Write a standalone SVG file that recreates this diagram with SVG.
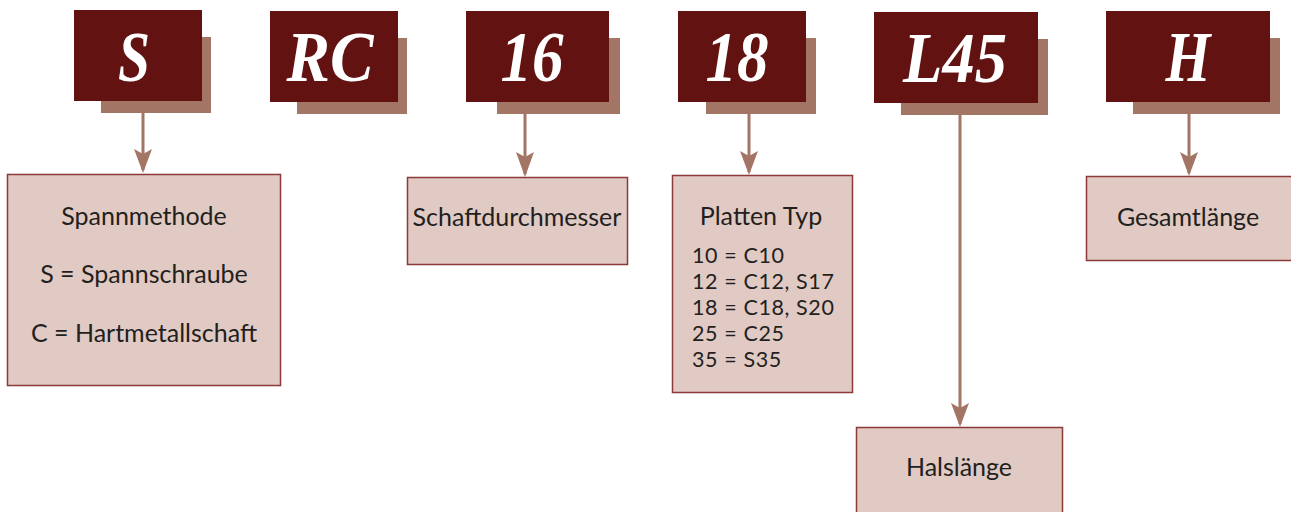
<svg xmlns="http://www.w3.org/2000/svg" width="1291" height="512" viewBox="0 0 1291 512">
<defs>
<style>
.sh{fill:#a37565}
.hd{fill:#621210}
.code{font-family:"Liberation Serif","Times New Roman",serif;font-weight:bold;font-style:italic;font-size:72px;fill:#ffffff;text-anchor:middle}
.box{fill:#e0cac3;stroke:#8b3a3a;stroke-width:1.5}
.t{font-family:Lato,"Open Sans",sans-serif;font-size:25px;fill:#231f20}
.lst{font-size:21.5px;letter-spacing:0.6px}
.c{text-anchor:middle}
.ln{stroke:#a37565;stroke-width:3;fill:none}
.ah{fill:#a37565}
</style>
</defs>
<rect width="1291" height="512" fill="#ffffff"/>
<g id="connectors">
<line class="ln" x1="143" y1="113" x2="143" y2="170"/>
<path class="ah" d="M134,149 L143,154 L152,149 L143,173 Z"/>
<line class="ln" x1="525" y1="114" x2="525" y2="174"/>
<path class="ah" d="M516,152 L525,157 L534,152 L525,177 Z"/>
<line class="ln" x1="749" y1="114" x2="749" y2="172"/>
<path class="ah" d="M740,151 L749,156 L758,151 L749,175 Z"/>
<line class="ln" x1="960" y1="115" x2="960" y2="424"/>
<path class="ah" d="M951,403 L960,408 L969,403 L960,427 Z"/>
<line class="ln" x1="1189" y1="114" x2="1189" y2="173"/>
<path class="ah" d="M1180,152 L1189,157 L1198,152 L1189,176 Z"/>
</g>
<g id="code-S">
<rect class="sh" x="101" y="37" width="110" height="76"/>
<rect class="hd" x="74" y="10" width="128" height="91"/>
<text class="code" x="134" y="81" textLength="32" lengthAdjust="spacingAndGlyphs">S</text>
</g>
<g id="code-RC">
<rect class="sh" x="297" y="38" width="110" height="76"/>
<rect class="hd" x="270" y="11" width="128" height="91"/>
<text class="code" x="330" y="81" textLength="87" lengthAdjust="spacingAndGlyphs">RC</text>
</g>
<g id="code-16">
<rect class="sh" x="497" y="38" width="123" height="76"/>
<rect class="hd" x="466" y="11" width="143" height="91"/>
<text class="code" x="532" y="81" textLength="63" lengthAdjust="spacingAndGlyphs">16</text>
</g>
<g id="code-18">
<rect class="sh" x="706" y="38" width="110" height="76"/>
<rect class="hd" x="678" y="11" width="128" height="91"/>
<text class="code" x="737" y="81" textLength="63" lengthAdjust="spacingAndGlyphs">18</text>
</g>
<g id="code-L45">
<rect class="sh" x="901" y="39" width="147" height="76"/>
<rect class="hd" x="874" y="12" width="164" height="91"/>
<text class="code" x="955" y="82" textLength="104" lengthAdjust="spacingAndGlyphs">L45</text>
</g>
<g id="code-H">
<rect class="sh" x="1133" y="38" width="147" height="76"/>
<rect class="hd" x="1106" y="11" width="164" height="91"/>
<text class="code" x="1188" y="81" textLength="45" lengthAdjust="spacingAndGlyphs">H</text>
</g>
<g id="box-spannmethode">
<rect class="box" x="7.5" y="174.5" width="273" height="211"/>
<text class="t c" x="144" y="225">Spannmethode</text>
<text class="t c" x="144" y="283">S = Spannschraube</text>
<text class="t c" x="144" y="342">C = Hartmetallschaft</text>
</g>
<g id="box-schaft">
<rect class="box" x="407.5" y="177.5" width="220" height="87"/>
<text class="t c" x="517" y="226">Schaftdurchmesser</text>
</g>
<g id="box-platten">
<rect class="box" x="672.5" y="175.5" width="180" height="217"/>
<text class="t c" x="761" y="225">Platten Typ</text>
<text class="t lst" x="692" y="263">10 = C10</text>
<text class="t lst" x="692" y="289">12 = C12, S17</text>
<text class="t lst" x="692" y="315">18 = C18, S20</text>
<text class="t lst" x="692" y="341">25 = C25</text>
<text class="t lst" x="692" y="367">35 = S35</text>
</g>
<g id="box-hals">
<rect class="box" x="856.5" y="427.5" width="206" height="100"/>
<text class="t c" x="959" y="476">Halslänge</text>
</g>
<g id="box-gesamt">
<rect class="box" x="1086.5" y="176.5" width="210" height="84"/>
<text class="t c" x="1188" y="226">Gesamtlänge</text>
</g>
</svg>
